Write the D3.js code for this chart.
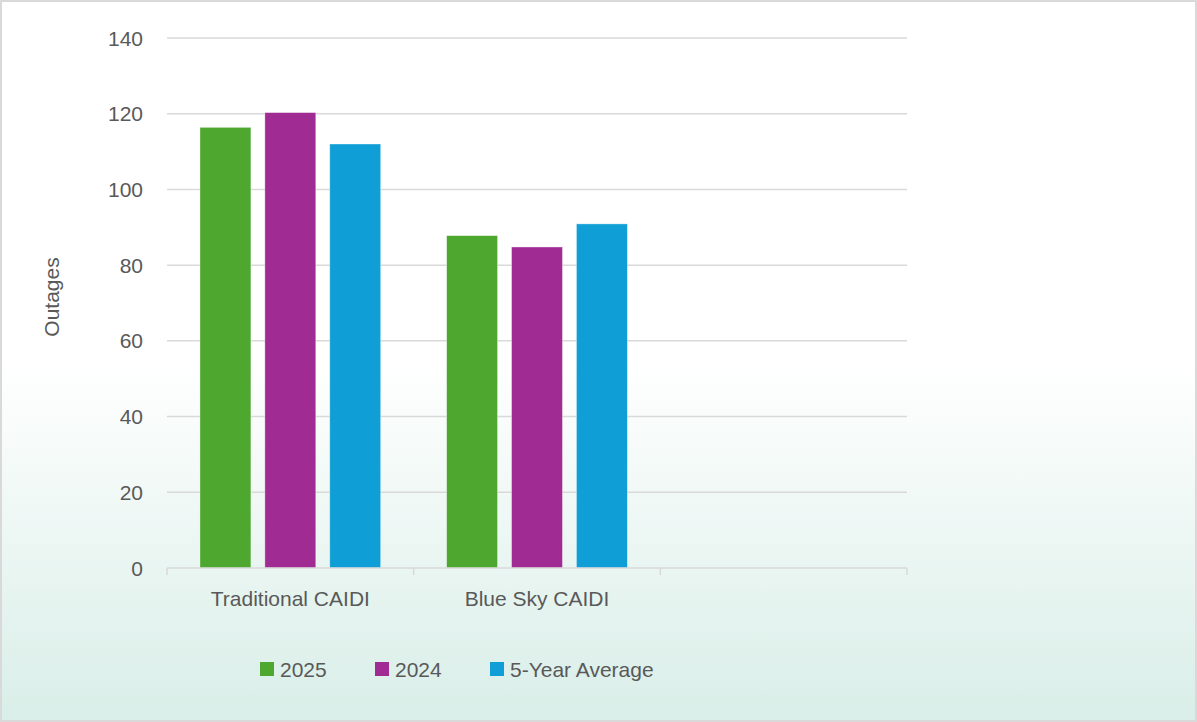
<!DOCTYPE html>
<html>
<head>
<meta charset="utf-8">
<script src="https://cdn.jsdelivr.net/npm/d3@7"></script>
<style>
  html, body { margin: 0; padding: 0; }
  text { font-family: "Liberation Sans", Arial, sans-serif; fill: #595959; }
</style>
</head>
<body>
<svg class="canvas"></svg>
<script>
var categories = ["Traditional CAIDI", "Blue Sky CAIDI", ""];
var seriesNames = ["2025", "2024", "5-Year Average"];
var series2025 = [116.4, 87.8];
var series2024 = [120.3, 84.8];
var seriesAvg = [112, 90.9];
var yTicks = [0, 20, 40, 60, 80, 100, 120, 140];
var colors = ["#4ea72e", "#a02b93", "#0f9ed5"];

var width = 1197,
	height = 722;

var PLOT_L = 167, PLOT_R = 907, PLOT_T = 38, PLOT_B = 568;

var canvas = d3.select(".canvas")
	.attr("width", width)
	.attr("height", height);

// background gradient
var defs = canvas.append("defs");
var grad = defs.append("linearGradient")
	.attr("id", "bg")
	.attr("x1", 0).attr("y1", 0).attr("x2", 0).attr("y2", 1);
grad.append("stop").attr("offset", "0%").attr("stop-color", "#ffffff");
grad.append("stop").attr("offset", "50%").attr("stop-color", "#ffffff");
grad.append("stop").attr("offset", "100%").attr("stop-color", "#d9eee8");

canvas.append("rect")
	.attr("x", 1).attr("y", 1)
	.attr("width", width - 2).attr("height", height - 2)
	.attr("fill", "url(#bg)")
	.attr("stroke", "#d9d9d9")
	.attr("stroke-width", 2);

var y = d3.scaleLinear().domain([0, 140]).range([PLOT_B, PLOT_T]);

var x = d3.scaleBand().domain(categories).range([PLOT_L, PLOT_R]).padding(0);

var xs = d3.scaleBand().domain(seriesNames).range([0, x.bandwidth()])
	.paddingInner(0.215).paddingOuter(0.508);

// gridlines
canvas.append("g").selectAll("line").data(yTicks.filter(function(d) { return d > 0; }))
	.enter().append("line")
	.attr("x1", PLOT_L).attr("x2", PLOT_R)
	.attr("y1", function(d) { return y(d); })
	.attr("y2", function(d) { return y(d); })
	.attr("stroke", "#d9d9d9")
	.attr("stroke-width", 1.5);

// y labels
canvas.append("g").selectAll("text").data(yTicks)
	.enter().append("text")
	.attr("x", 143)
	.attr("y", function(d) { return y(d); })
	.attr("dy", "0.36em")
	.attr("text-anchor", "end")
	.style("font-size", "21px")
	.text(function(d) { return d; });

// bars
var rows = categories.slice(0, 2).map(function(c, i) {
	return { cat: c, vals: [series2025[i], series2024[i], seriesAvg[i]] };
});

var groups = canvas.selectAll("g .grp").data(rows)
	.enter().append("g")
	.attr("class", "grp")
	.attr("transform", function(d) { return "translate(" + x(d.cat) + ",0)"; });

groups.selectAll("rect").data(function(d) { return d.vals; })
	.enter().append("rect")
	.attr("x", function(d, i) { return xs(seriesNames[i]); })
	.attr("y", function(d) { return y(d); })
	.attr("width", xs.bandwidth())
	.attr("height", function(d) { return y(0) - y(d); })
	.attr("fill", function(d, i) { return colors[i]; })
	.attr("stroke", "rgba(255,255,255,0.5)")
	.attr("stroke-width", 0.75);

// x axis line and ticks
canvas.append("line")
	.attr("x1", PLOT_L).attr("x2", PLOT_R)
	.attr("y1", y(0)).attr("y2", y(0))
	.attr("stroke", "#d9d9d9")
	.attr("stroke-width", 1.5);

var tickPos = categories.map(function(c) { return x(c); }).concat([PLOT_R]);
canvas.append("g").selectAll("line").data(tickPos)
	.enter().append("line")
	.attr("x1", function(d) { return d; })
	.attr("x2", function(d) { return d; })
	.attr("y1", y(0)).attr("y2", y(0) + 7)
	.attr("stroke", "#d9d9d9")
	.attr("stroke-width", 1.5);

canvas.append("g").selectAll("text").data(categories)
	.enter().append("text")
	.attr("x", function(d) { return x(d) + x.bandwidth() / 2; })
	.attr("y", 606)
	.attr("text-anchor", "middle")
	.style("font-size", "21px")
	.text(function(d) { return d; });

// y axis title
canvas.append("text")
	.attr("transform", "translate(59,297) rotate(-90)")
	.attr("text-anchor", "middle")
	.style("font-size", "21px")
	.text("Outages");

// legend
var legX = [260, 375, 490];
var leg = canvas.selectAll("g .leg").data(seriesNames)
	.enter().append("g")
	.attr("class", "leg")
	.attr("transform", function(d, i) { return "translate(" + legX[i] + ",662)"; });

leg.append("rect")
	.attr("width", 14).attr("height", 14)
	.attr("fill", function(d, i) { return colors[i]; });

leg.append("text")
	.attr("x", 20)
	.attr("y", 7)
	.attr("dy", "0.36em")
	.style("font-size", "21px")
	.text(function(d) { return d; });
</script>
</body>
</html>
